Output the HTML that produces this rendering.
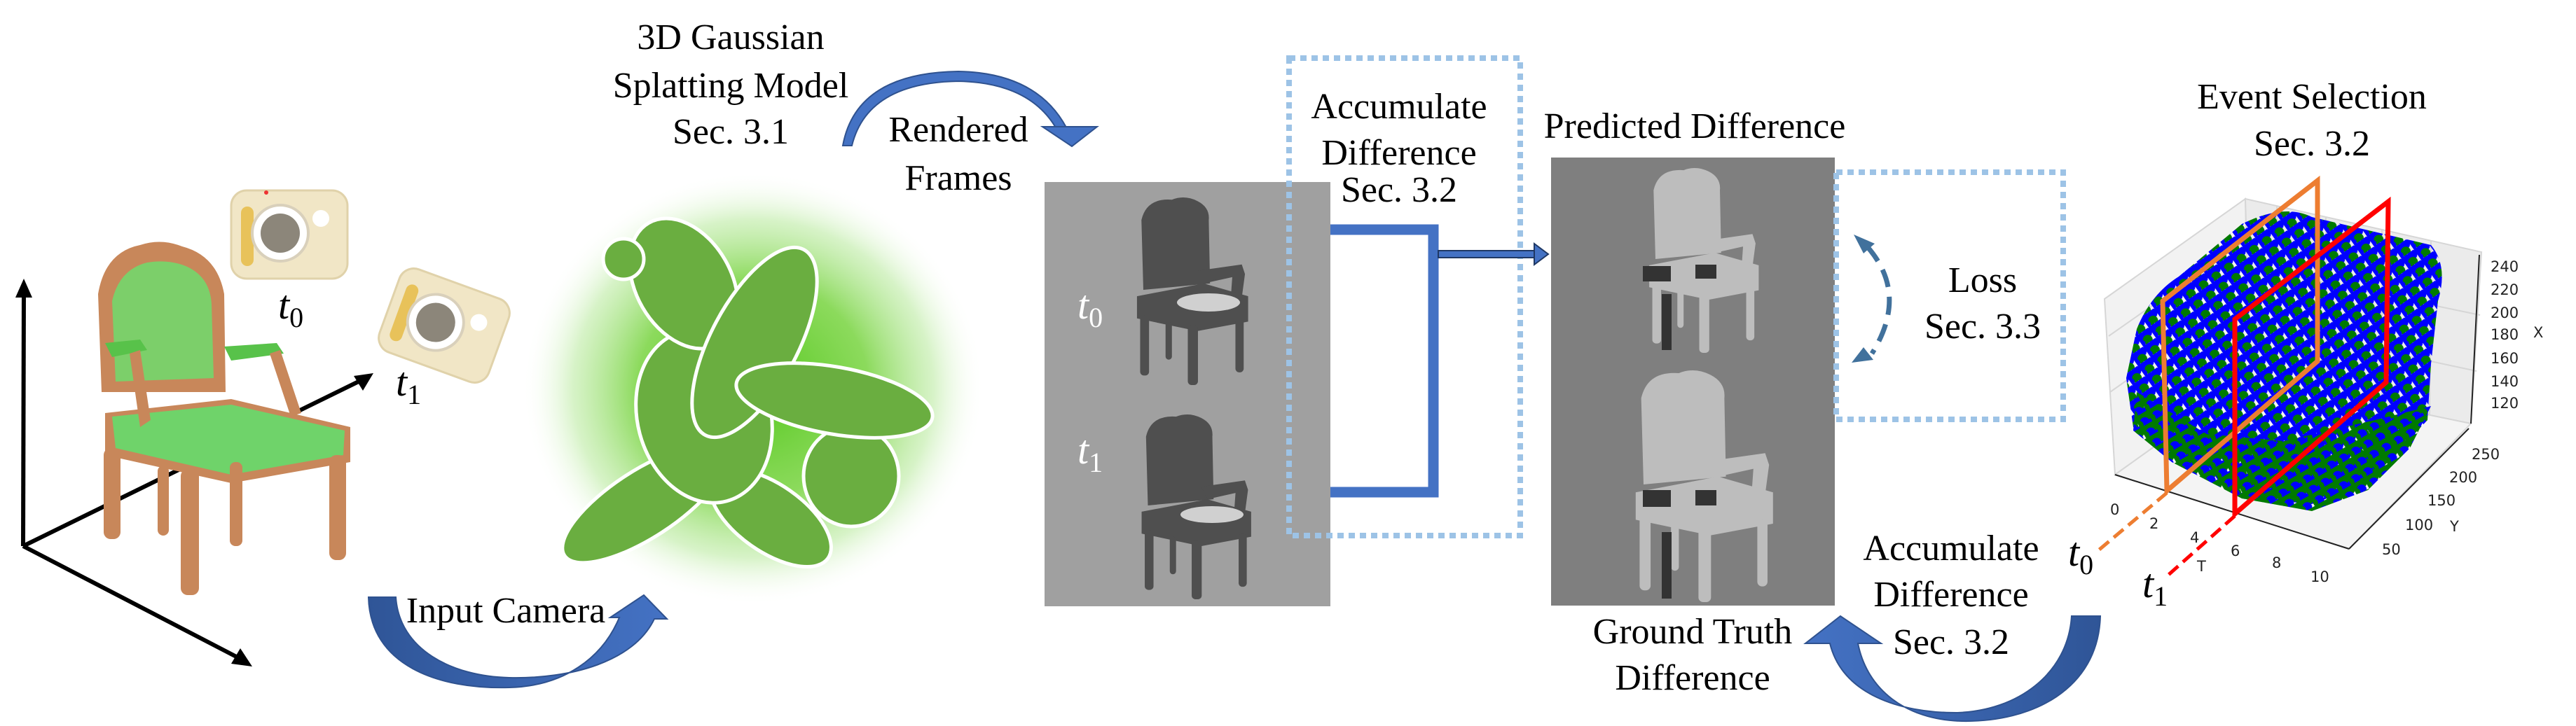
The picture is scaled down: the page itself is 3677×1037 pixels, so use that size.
<!DOCTYPE html>
<html><head><meta charset="utf-8"><style>
html,body{margin:0;padding:0;background:#fff;}
svg{display:block;}
.lbl{font-family:"Liberation Serif","Times New Roman",Times,"DejaVu Serif","Noto Serif CJK SC",serif;font-size:52px;text-anchor:middle;fill:#000;}
.tk{font-family:"DejaVu Sans","Liberation Sans",sans-serif;font-size:21px;fill:#222;}
.m{font-family:"Liberation Serif","Times New Roman",Times,"DejaVu Serif","Noto Serif CJK SC",serif;font-style:italic;font-size:58px;fill:#000;}
.s{font-style:normal;font-size:40px;}
</style></head><body>
<svg width="3677" height="1037" viewBox="0 0 3677 1037" xmlns="http://www.w3.org/2000/svg">
<defs>
  <radialGradient id="glow" cx="50%" cy="50%" r="50%">
    <stop offset="0" stop-color="#55c81e"/>
    <stop offset="0.5" stop-color="#7fd64a" stop-opacity="0.9"/>
    <stop offset="0.78" stop-color="#b6e99a" stop-opacity="0.55"/>
    <stop offset="1" stop-color="#ffffff" stop-opacity="0"/>
  </radialGradient>
  <linearGradient id="arr" x1="0" y1="0" x2="1" y2="0">
    <stop offset="0" stop-color="#2f5597"/><stop offset="1" stop-color="#4472c4"/>
  </linearGradient>
  <linearGradient id="arr2" x1="1" y1="0" x2="0" y2="0">
    <stop offset="0" stop-color="#2f5597"/><stop offset="1" stop-color="#4472c4"/>
  </linearGradient>
  <pattern id="dots" width="22" height="18" patternUnits="userSpaceOnUse" patternTransform="rotate(-35)">
    <circle cx="5" cy="5" r="7" fill="#0000ff"/>
    <circle cx="16" cy="5" r="7" fill="#0000ff"/>
    <circle cx="11" cy="14" r="7" fill="#007a00"/>
    <circle cx="0" cy="14" r="6" fill="#0000ff"/>
  </pattern>
  <pattern id="gdots" width="20" height="17" patternUnits="userSpaceOnUse" patternTransform="rotate(-30)">
    <circle cx="5" cy="5" r="7" fill="#007a00"/>
    <circle cx="15" cy="5" r="7" fill="#007a00"/>
    <circle cx="10" cy="13" r="7" fill="#0000ff"/>
    <circle cx="0" cy="13" r="7" fill="#007a00"/>
  </pattern>
  <symbol id="chair" viewBox="0 0 200 300">
    <path d="M25,150 L22,40 Q30,5 70,8 Q90,0 110,10 Q130,20 128,40 L130,140 Z"/>
    <path d="M110,120 L180,110 L185,125 L175,200 L160,200 L165,130 L120,140 Z"/>
    <path d="M15,160 L120,140 L190,160 L190,200 L110,215 L15,195 Z"/>
    <rect x="20" y="190" width="14" height="95" rx="6"/>
    <rect x="95" y="205" width="16" height="95" rx="6"/>
    <rect x="170" y="195" width="13" height="85" rx="6"/>
    <rect x="60" y="200" width="10" height="60" rx="5"/>
  </symbol>
</defs>

<!-- axes -->
<g stroke="#000" stroke-width="6" fill="none">
  <line x1="33" y1="780" x2="34" y2="415"/>
  <line x1="33" y1="780" x2="345" y2="942"/>
  <line x1="33" y1="780" x2="520" y2="541"/>
</g>
<polygon points="34,398 22,425 46,425" fill="#000"/>
<polygon points="360,952 330,948 343,926" fill="#000"/>
<polygon points="533,533 505,537 518,558" fill="#000"/>

<!-- left chair -->
<g>
  <path d="M145,560 L140,420 Q150,360 200,350 Q230,340 260,352 Q310,365 320,420 L322,560 Z" fill="#c8875a"/>
  <path d="M165,545 L160,430 Q170,385 210,375 Q240,370 265,380 Q300,395 302,435 L305,540 Z" fill="#7ccf6a"/>
  <path d="M150,490 L200,485 L210,500 L160,510 Z" fill="#58c24a"/>
  <path d="M320,495 L395,490 L405,505 L330,515 Z" fill="#58c24a"/>
  <path d="M150,590 L330,570 L500,610 L500,660 L330,690 L150,650 Z" fill="#c8875a"/>
  <path d="M160,595 L330,578 L492,615 L490,650 L330,678 L165,640 Z" fill="#6fd36a"/>
  <rect x="148" y="640" width="24" height="130" rx="10" fill="#c8875a"/>
  <rect x="258" y="670" width="26" height="180" rx="10" fill="#c8875a"/>
  <rect x="470" y="650" width="24" height="150" rx="10" fill="#c8875a"/>
  <rect x="225" y="665" width="16" height="100" rx="8" fill="#c8875a"/>
  <rect x="328" y="660" width="18" height="120" rx="8" fill="#c8875a"/>
  <path d="M200,500 L215,600 L200,610 L185,505 Z" fill="#c8875a"/>
  <path d="M400,500 L430,590 L415,595 L385,505 Z" fill="#c8875a"/>
</g>

<!-- cameras -->
<g>
  <rect x="330" y="272" width="166" height="126" rx="22" fill="#f1e6c6" stroke="#e0d2aa" stroke-width="3"/>
  <rect x="344" y="295" width="18" height="85" rx="9" fill="#e8c25a"/>
  <circle cx="400" cy="333" r="40" fill="#fff" stroke="#d9d0bb" stroke-width="4"/>
  <circle cx="400" cy="333" r="28" fill="#8c867a"/>
  <circle cx="458" cy="312" r="12" fill="#fff"/>
  <circle cx="380" cy="275" r="3" fill="#e33"/>
</g>
<g transform="translate(634,465) rotate(20)">
  <rect x="-83" y="-63" width="166" height="126" rx="22" fill="#f1e6c6" stroke="#e0d2aa" stroke-width="3"/>
  <rect x="-69" y="-40" width="18" height="85" rx="9" fill="#e8c25a"/>
  <circle cx="-13" cy="0" r="40" fill="#fff" stroke="#d9d0bb" stroke-width="4"/>
  <circle cx="-13" cy="0" r="28" fill="#8c867a"/>
  <circle cx="45" cy="-21" r="12" fill="#fff"/>
</g>
<text x="397" y="455" class="m">t<tspan class="s" dy="12">0</tspan></text>
<text x="565" y="565" class="m">t<tspan class="s" dy="12">1</tspan></text>

<!-- gaussian blob -->
<ellipse cx="1075" cy="555" rx="330" ry="310" fill="url(#glow)"/>
<g fill="#6aae40" stroke="#fff" stroke-width="5">
  <ellipse cx="919" cy="720" rx="135" ry="48" transform="rotate(-33 919 720)"/>
  <ellipse cx="1100" cy="740" rx="100" ry="48" transform="rotate(35 1100 740)"/>
  <ellipse cx="1215" cy="680" rx="68" ry="72"/>
  <ellipse cx="1005" cy="595" rx="125" ry="95" transform="rotate(75 1005 595)"/>
  <ellipse cx="976" cy="405" rx="100" ry="68" transform="rotate(60 976 405)"/>
  <ellipse cx="1077" cy="489" rx="150" ry="62" transform="rotate(-62 1077 489)"/>
  <ellipse cx="1191" cy="572" rx="142" ry="48" transform="rotate(10 1191 572)"/>
  <circle cx="890" cy="370" r="29"/>
</g>

<!-- titles -->
<text x="1043" y="70" class="lbl">3D Gaussian</text>
<text x="1043" y="139" class="lbl">Splatting Model</text>
<text x="1043" y="205" class="lbl">Sec. 3.1</text>
<text x="1368" y="202" class="lbl">Rendered</text>
<text x="1368" y="271" class="lbl">Frames</text>

<!-- top arrow -->
<path d="M1203,208 Q1222,104 1368,102 Q1480,104 1522,182 L1508,184 Q1470,118 1368,116 Q1238,118 1216,208 Z" fill="#4472c4" stroke="#2f528f" stroke-width="2"/>
<polygon points="1488,181 1566,181 1530,209" fill="#4472c4" stroke="#2f528f" stroke-width="2"/>

<!-- input camera arrow -->
<path d="M526,853 C528,950 625,985 727,982 C805,980 860,940 884,882 L871,882 L919,850 L952,884 L934,884 C905,945 815,970 727,968 C645,966 570,928 565,853 Z" fill="url(#arr)" stroke="#2f528f" stroke-width="2"/>
<text x="722" y="889" class="lbl">Input Camera</text>

<!-- rendered frames -->
<rect x="1491" y="260" width="408" height="606" fill="#a0a0a0"/>
<use href="#chair" x="1600" y="278" width="200" height="272" fill="#4f4f4f"/>
<use href="#chair" x="1608" y="588" width="195" height="268" fill="#4f4f4f"/>
<ellipse cx="1725" cy="432" rx="45" ry="13" fill="#d0d0d0"/>
<ellipse cx="1730" cy="735" rx="45" ry="12" fill="#d0d0d0"/>
<text x="1538" y="455" class="m" style="fill:#fff">t<tspan class="s" dy="12" style="fill:#fff">0</tspan></text>
<text x="1538" y="662" class="m" style="fill:#fff">t<tspan class="s" dy="12" style="fill:#fff">1</tspan></text>

<!-- accumulate dotted box -->
<rect x="1840" y="83" width="330" height="682" fill="none" stroke="#9dc3e6" stroke-width="8" stroke-dasharray="9 7"/>
<text x="1997" y="169" class="lbl">Accumulate</text>
<text x="1997" y="235" class="lbl">Difference</text>
<text x="1997" y="288" class="lbl">Sec. 3.2</text>

<!-- bracket -->
<path d="M1899,328 L2046,328 L2046,703 L1899,703" fill="none" stroke="#4472c4" stroke-width="15"/>
<rect x="2053" y="358" width="140" height="10" fill="#4472c4" stroke="#1f3864" stroke-width="2"/>
<polygon points="2190,348 2210,363 2190,378" fill="#4472c4" stroke="#1f3864" stroke-width="2"/>

<!-- predicted difference -->
<text x="2419" y="197" class="lbl">Predicted Difference</text>
<rect x="2214" y="225" width="405" height="640" fill="#7f7f7f"/>
<use href="#chair" x="2300" y="236" width="260" height="268" fill="#bdbdbd"/>
<use href="#chair" x="2300" y="524" width="260" height="336" fill="#bdbdbd"/>
<g fill="#333">
  <rect x="2345" y="380" width="40" height="22"/><rect x="2420" y="378" width="30" height="20"/>
  <rect x="2345" y="700" width="40" height="24"/><rect x="2420" y="700" width="30" height="22"/>
  <rect x="2372" y="420" width="14" height="80"/><rect x="2372" y="760" width="14" height="95"/>
</g>
<text x="2416" y="919" class="lbl">Ground Truth</text>
<text x="2416" y="985" class="lbl">Difference</text>

<!-- loss box -->
<rect x="2621" y="246" width="324" height="353" fill="none" stroke="#9dc3e6" stroke-width="8" stroke-dasharray="9 7"/>
<path d="M2665,352 Q2725,420 2672,505" fill="none" stroke="#41719c" stroke-width="7" stroke-dasharray="26 14"/>
<polygon points="2646,335 2676,348 2660,362" fill="#41719c"/>
<polygon points="2643,518 2660,496 2674,514" fill="#41719c"/>
<text x="2830" y="417" class="lbl">Loss</text>
<text x="2830" y="483" class="lbl">Sec. 3.3</text>

<!-- bottom arrow -->
<path d="M2998,880 C2995,985 2900,1032 2800,1030 C2720,1028 2665,985 2652,919 L2685,919 L2627,880 L2577,919 L2612,919 C2630,992 2712,1018 2792,1018 C2880,1016 2952,962 2957,880 Z" fill="url(#arr2)" stroke="#2f528f" stroke-width="2"/>
<text x="2785" y="800" class="lbl">Accumulate</text>
<text x="2785" y="866" class="lbl">Difference</text>
<text x="2785" y="934" class="lbl">Sec. 3.2</text>

<!-- event selection -->
<text x="3300" y="155" class="lbl">Event Selection</text>
<text x="3300" y="222" class="lbl">Sec. 3.2</text>
<g stroke="#d6d6d6" stroke-width="2">
  <polygon points="3004,427 3205,284 3212,540 3019,678" fill="#f2f2f2"/>
  <polygon points="3205,284 3542,360 3527,605 3212,540" fill="#ebebeb"/>
  <polygon points="3019,678 3212,540 3527,605 3353,784" fill="#f4f4f4"/>
  <line x1="3250" y1="294" x2="3255" y2="548"/><line x1="3320" y1="310" x2="3322" y2="562"/>
  <line x1="3400" y1="328" x2="3400" y2="578"/><line x1="3470" y1="344" x2="3468" y2="592"/>
  <line x1="3010" y1="480" x2="3210" y2="340"/><line x1="3012" y1="560" x2="3210" y2="420"/>
  <line x1="3205" y1="380" x2="3540" y2="450"/><line x1="3208" y1="460" x2="3535" y2="530"/>
</g>
<path d="M3050,470 Q3070,420 3110,395 L3200,320 Q3260,290 3300,310 L3470,350 Q3495,380 3480,430 L3470,520 L3465,600 L3380,690 L3300,720 L3200,710 L3100,650 L3045,610 L3035,540 Z" fill="url(#dots)"/>
<path d="M3050,560 L3150,620 L3260,630 L3390,600 L3470,580 L3440,640 L3380,700 L3300,730 L3200,712 L3100,660 L3045,615 Z" fill="url(#gdots)"/>
<g stroke="#222" stroke-width="2" fill="none">
  <line x1="3019" y1="678" x2="3353" y2="784"/>
  <line x1="3353" y1="784" x2="3524" y2="612"/>
  <line x1="3539" y1="364" x2="3527" y2="605"/>
</g>
<g class="tk">
  <text x="3012" y="735">0</text><text x="3068" y="755">2</text><text x="3126" y="775">4</text>
  <text x="3184" y="794">6</text><text x="3243" y="811">8</text><text x="3298" y="831">10</text>
  <text x="3136" y="816">T</text>
  <text x="3400" y="792">50</text><text x="3433" y="757">100</text><text x="3465" y="722">150</text>
  <text x="3496" y="689">200</text><text x="3528" y="656">250</text><text x="3497" y="759">Y</text>
  <text x="3555" y="388">240</text><text x="3555" y="421">220</text><text x="3555" y="454">200</text>
  <text x="3555" y="485">180</text><text x="3555" y="519">160</text><text x="3555" y="552">140</text>
  <text x="3555" y="583">120</text><text x="3616" y="482">X</text>
</g>
<g fill="none" stroke-width="7">
  <polygon points="3087,430 3308,258 3308,516 3093,701" stroke="#ed7d31"/>
  <polygon points="3190,456 3409,288 3406,546 3190,734" stroke="#ff0000"/>
  <line x1="3093" y1="704" x2="2993" y2="788" stroke="#ed7d31" stroke-dasharray="18 9" stroke-width="5"/>
  <line x1="3190" y1="737" x2="3093" y2="823" stroke="#ff0000" stroke-dasharray="18 9" stroke-width="5"/>
</g>
<text x="2952" y="808" class="m">t<tspan class="s" dy="12">0</tspan></text>
<text x="3058" y="853" class="m">t<tspan class="s" dy="12">1</tspan></text>
</svg>
</body></html>
